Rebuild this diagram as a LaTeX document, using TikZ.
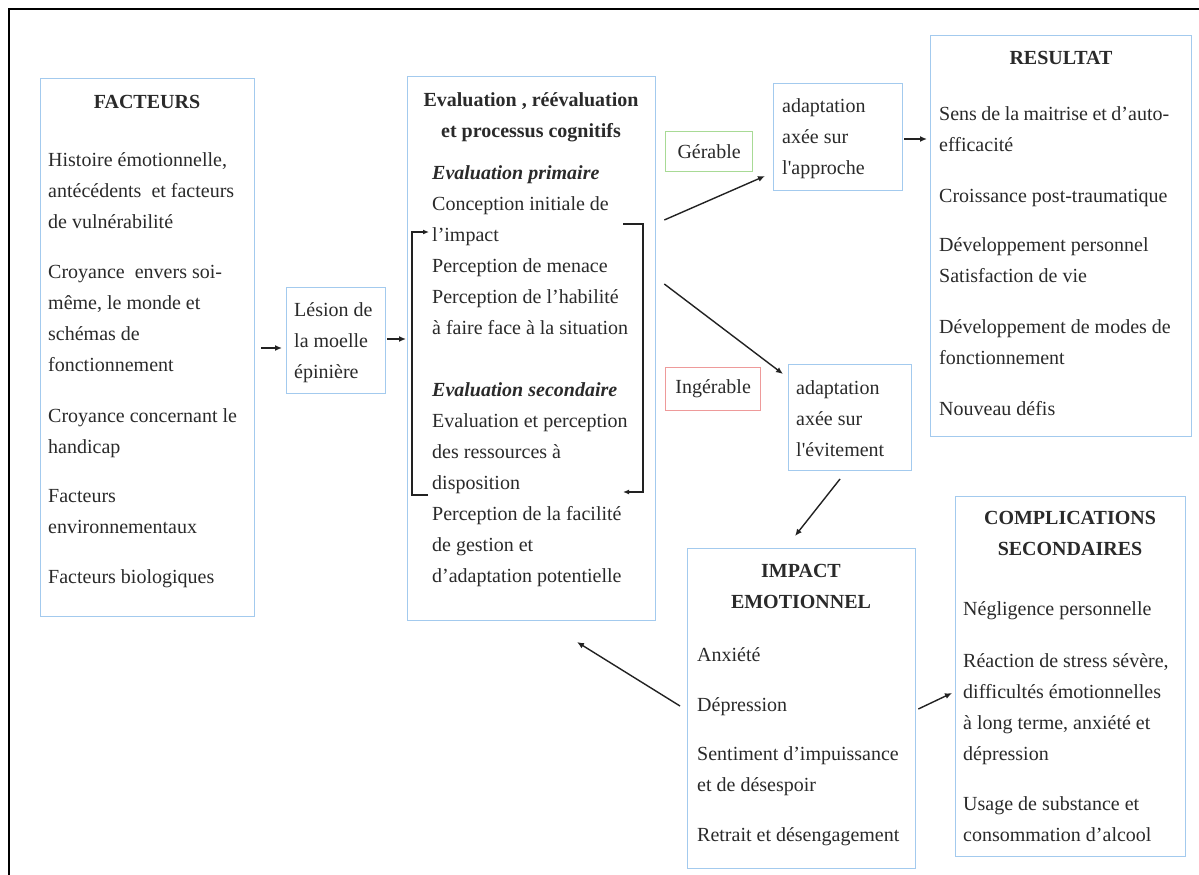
\documentclass[tikz,border=0pt]{standalone}
\usepackage{fontspec}
\setmainfont{Liberation Serif}[Ligatures=TeXOff]
\usetikzlibrary{arrows.meta,calc}
\definecolor{boxblue}{HTML}{A3CAEE}
\definecolor{gergreen}{HTML}{A8DA95}
\definecolor{ingred}{HTML}{EE9A9A}
\definecolor{txtcol}{HTML}{2A2A2A}
\definecolor{arrcol}{HTML}{222222}
\newcommand{\fsz}{\fontsize{20}{31}\selectfont}
\begin{document}
\begin{tikzpicture}[x=1pt,y=-1pt,
  box/.style={draw=boxblue, line width=1.3pt, anchor=north west, inner sep=0pt, text=txtcol, font=\fsz},
  txt/.style={anchor=north west, yshift=21.7pt, inner sep=0pt, align=left, text=txtcol, font=\fsz},
  ttl/.style={anchor=north, yshift=21.7pt, inner sep=0pt, align=center, text=txtcol, font=\fsz\bfseries},
  arr/.style={draw=arrcol, line width=1.4pt, -{Latex[length=7pt,width=6pt]}},
  brk/.style={draw=arrcol, line width=1.6pt, -{Latex[length=6pt,width=5pt]}}]
\fill[white] (0,0) rectangle (1199,875);
\useasboundingbox (0,0) rectangle (1199,875);
\draw[line width=1.3pt, black] (9,875) -- (9,9) -- (1199,9);

% boxes
\node[box, minimum width=214pt, minimum height=538pt] (fact) at (40,78) {};
\node[box, minimum width=99pt, minimum height=106pt] (les) at (286,287) {};
\node[box, minimum width=248pt, minimum height=544pt] (eval) at (407,76) {};
\node[box, draw=gergreen, minimum width=87pt, minimum height=40pt] (ger) at (665,131) {Gérable};
\node[box, minimum width=129pt, minimum height=107pt] (appr) at (773,83) {};
\node[box, minimum width=261pt, minimum height=401pt] (res) at (930,35) {};
\node[box, draw=ingred, minimum width=95pt, minimum height=43pt] (inger) at (665,367) {Ingérable};
\node[box, minimum width=123pt, minimum height=106pt] (evit) at (788,364) {};
\node[box, minimum width=228pt, minimum height=320pt] (imp) at (687,548) {};
\node[box, minimum width=230pt, minimum height=360pt] (comp) at (955,496) {};

% texts (first baseline at the given point)
\node[ttl] (factT) at (147,108) {\strut FACTEURS};
\node[txt] (factL) at (48,166) {\strut Histoire émotionnelle,\\antécédents\ \ et facteurs\\de vulnérabilité\\[19pt]Croyance\ \ envers soi-\\même, le monde et\\schémas de\\fonctionnement\\[20pt]Croyance concernant le\\handicap\\[18pt]Facteurs\\environnementaux\\[19pt]Facteurs biologiques};
\node[txt] (lesL) at (294,316) {\strut Lésion de\\la moelle\\épinière};
\node[ttl] (evalT) at (531,106) {\strut Evaluation , réévaluation\\et processus cognitifs};
\node[txt] (evalL) at (432,179) {\strut\textbf{\textit{Evaluation primaire}}\\Conception initiale de\\l’impact\\Perception de menace\\Perception de l’habilité\\à faire face à la situation\\[31pt]\textbf{\textit{Evaluation secondaire}}\\Evaluation et perception\\des ressources à\\disposition\\Perception de la facilité\\de gestion et\\d’adaptation potentielle};
\node[txt] (apprL) at (782,112) {\strut adaptation\\axée sur\\l'approche};
\node[txt] (evitL) at (796,394) {\strut adaptation\\axée sur\\l'évitement};
\node[ttl] (resT) at (1061,64) {\strut RESULTAT};
\node[txt] (resL) at (939,120) {\strut\makebox[230pt][s]{Sens de la maitrise et d’auto-}\\efficacité\\[20pt]Croissance post-traumatique\\[18pt]Développement personnel\\Satisfaction de vie\\[20pt]Développement de modes de\\fonctionnement\\[20pt]Nouveau défis};
\node[ttl] (impT) at (801,577) {\strut IMPACT\\EMOTIONNEL};
\node[txt] (impL) at (697,661) {\strut Anxiété\\[19pt]Dépression\\[18pt]Sentiment d’impuissance\\et de désespoir\\[19pt]Retrait et désengagement};
\node[ttl] (compT) at (1070,524) {\strut COMPLICATIONS\\SECONDAIRES};
\node[txt] (compL) at (963,615) {\strut Négligence personnelle\\[21pt]Réaction de stress sévère,\\difficultés émotionnelles\\à long terme, anxiété et\\dépression\\[19pt]Usage de substance et\\consommation d’alcool};

% connectors
\draw[arr] ($(fact.north east)+(6,270)$) -- ($(les.north west)+(-4,61)$);
\draw[arr] ($(les.north east)+(1,52)$) -- ($(eval.north west)+(-1,263)$);
\draw[arr] ($(eval.north east)+(8,144)$) -- ($(appr.north west)+(-8,93)$);
\draw[arr] ($(eval.north east)+(8,208)$) -- ($(evit.north west)+(-5,10)$);
\draw[arr] ($(appr.north east)+(1,56)$) -- ($(res.north west)+(-3,104)$);
\draw[arr] ($(evit.north west)+(52,115)$) -- ($(imp.north west)+(108,-12)$);
\draw[arr] ($(imp.north west)+(-7,158)$) -- ($(eval.north west)+(170,566)$);
\draw[arr] ($(imp.north east)+(2,161)$) -- ($(comp.north west)+(-3,197)$);

% feedback brackets inside the evaluation box
\draw[brk] ($(eval.north west)+(21,419)$) -- ($(eval.north west)+(5,419)$) -- ($(eval.north west)+(5,156)$) -- ($(eval.north west)+(22,156)$);
\draw[brk] ($(eval.north west)+(216,148)$) -- ($(eval.north west)+(236,148)$) -- ($(eval.north west)+(236,416)$) -- ($(eval.north west)+(216,416)$);
\end{tikzpicture}
\end{document}
